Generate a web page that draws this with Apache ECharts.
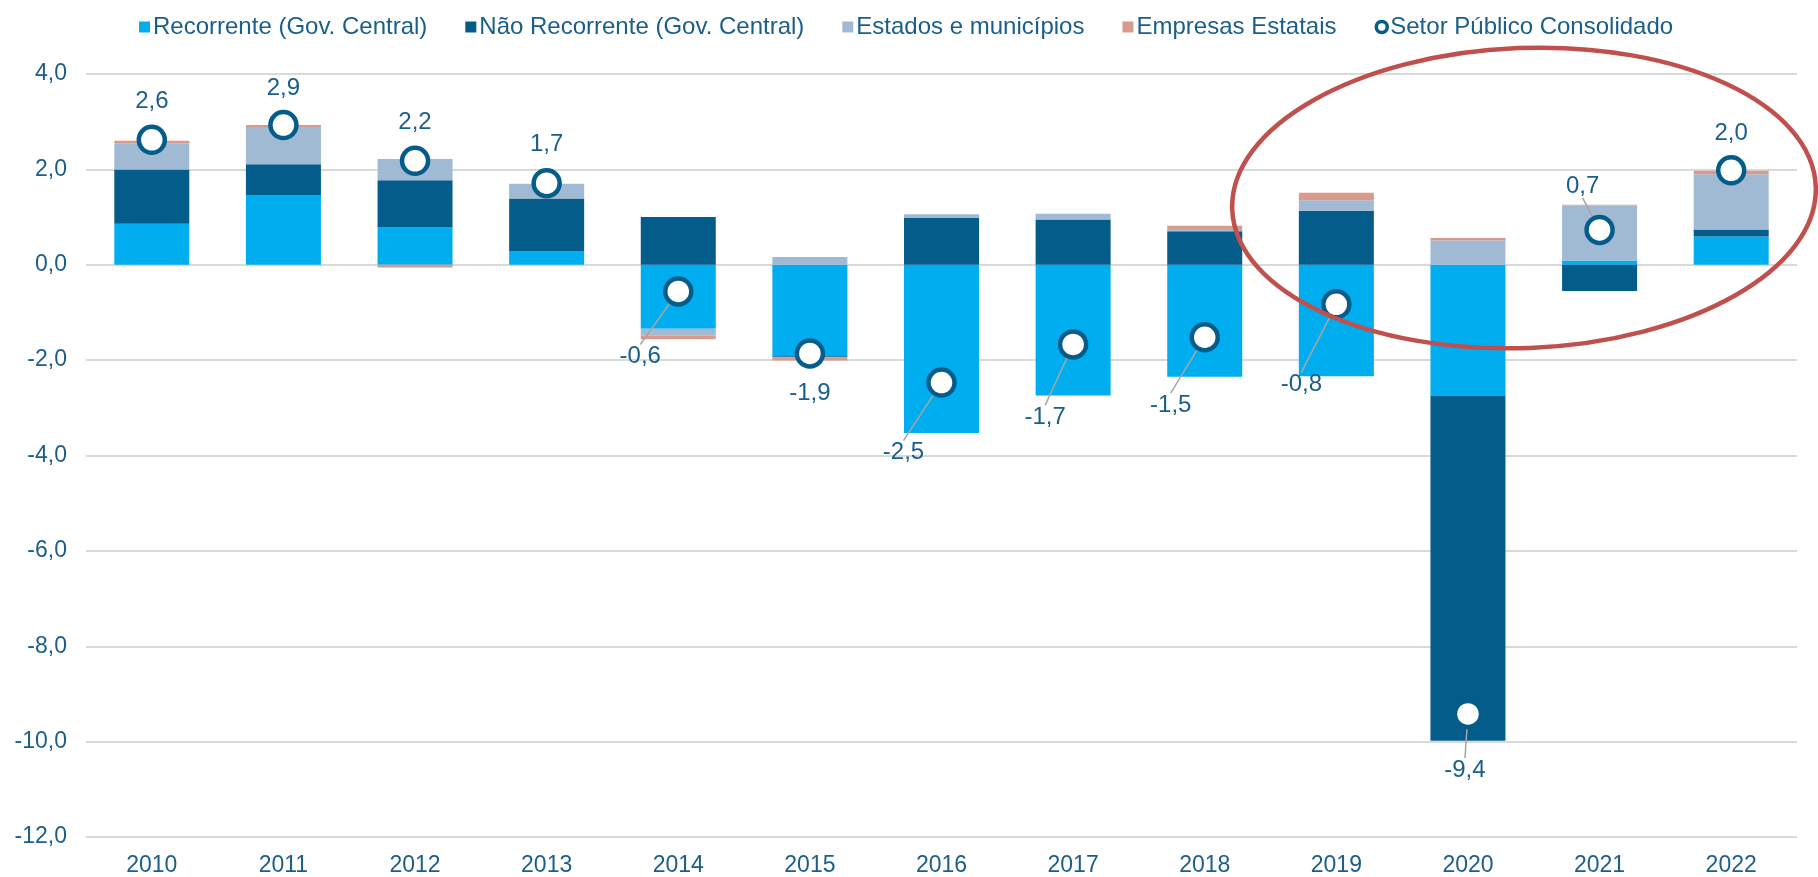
<!DOCTYPE html>
<html>
<head>
<meta charset="utf-8">
<title>Resultado primário</title>
<script src="https://cdn.jsdelivr.net/npm/echarts/dist/echarts.min.js"></script>
<style>
  html, body { margin: 0; padding: 0; background: #fff; }
  #chart { width: 1818px; height: 877px; }
</style>
</head>
<body>
<div id="chart"></div>
<script>
// dados (% do PIB)
const anos = ['2010', '2011', '2012', '2013', '2014', '2015', '2016', '2017', '2018', '2019', '2020', '2021', '2022'];
const recorrente = [0.86, 1.45, 0.78, 0.29, -1.34, -1.92, -3.53, -2.74, -2.35, -2.34, -2.74, 0.09, 0.59];
const naoRecorrente = [1.14, 0.66, 0.99, 1.10, 1.00, -0.02, 0.98, 0.95, 0.70, 1.13, -7.24, -0.55, 0.15];
const estados = [0.55, 0.78, 0.45, 0.31, -0.15, 0.16, 0.08, 0.12, 0.05, 0.22, 0.51, 1.15, 1.16];
const empresas = [0.05, 0.04, -0.06, 0.00, -0.07, -0.07, 0.00, 0.00, 0.07, 0.16, 0.05, 0.02, 0.07];
const setorPublico = [2.62, 2.93, 2.18, 1.71, -0.56, -1.86, -2.47, -1.67, -1.52, -0.83, -9.42, 0.73, 1.98];
const yTicks = [-12, -10, -8, -6, -4, -2, 0, 2, 4];

const azulTexto = '#1A5E8B';
const fonte = '"Liberation Sans", Arial, sans-serif';

// deslocamento dos rótulos do consolidado em relação ao círculo (px)
const rotuloDx = [0, 0, 0, 0, -38, 0, -38, -28, -34, -35, -3, -17, 0];
const rotuloDy = [-38, -37, -38, -39, 65, 40, 70, 73, 68, 80, 56, -44, -37];
const comLinha = [false, false, false, false, true, false, true, true, true, true, true, true, false];

const fmt = (v) => v.toFixed(1).replace('.', ',');

const chart = echarts.init(document.getElementById('chart'));

const barra = (name, data, color) => ({
  name,
  type: 'bar',
  stack: 'total',
  barWidth: 75,
  data,
  itemStyle: { color },
  emphasis: { disabled: true }
});

chart.setOption({
  animation: false,
  textStyle: { fontFamily: fonte },
  legend: {
    top: 10,
    left: 134,
    itemGap: 38,
    itemWidth: 11,
    itemHeight: 11,
    textStyle: { color: azulTexto, fontSize: 24, fontFamily: fonte, padding: [0, 0, 0, -2] },
    data: [
      { name: 'Recorrente (Gov. Central)', icon: 'rect' },
      { name: 'Não Recorrente (Gov. Central)', icon: 'rect' },
      { name: 'Estados e municípios', icon: 'rect' },
      { name: 'Empresas Estatais', icon: 'rect' },
      {
        name: 'Setor Público Consolidado',
        icon: 'circle',
        itemStyle: { color: '#ffffff', borderColor: '#045C8A', borderWidth: 3.5 }
      }
    ]
  },
  grid: { left: 86, right: 21, top: 74, bottom: 40 },
  xAxis: {
    type: 'category',
    data: anos,
    axisLine: { show: false, onZero: false },
    axisTick: { show: false },
    axisLabel: { color: azulTexto, fontSize: 23, margin: 17, fontFamily: fonte }
  },
  yAxis: {
    type: 'value',
    min: yTicks[0],
    max: yTicks[yTicks.length - 1],
    interval: 2,
    axisLine: { show: false },
    axisTick: { show: false },
    axisLabel: { color: azulTexto, fontSize: 23, margin: 19, fontFamily: fonte, formatter: fmt },
    splitLine: { lineStyle: { color: '#D9D9D9', width: 2 } }
  },
  series: [
    barra('Recorrente (Gov. Central)', recorrente, '#00AEEF'),
    barra('Não Recorrente (Gov. Central)', naoRecorrente, '#045C8A'),
    barra('Estados e municípios', estados, '#A0BAD3'),
    barra('Empresas Estatais', empresas, '#D89A8D'),
    {
      name: 'Setor Público Consolidado',
      type: 'scatter',
      z: 5,
      symbol: 'circle',
      symbolSize: 26,
      itemStyle: { color: '#ffffff', borderColor: '#045C8A', borderWidth: 4.5, opacity: 1 },
      emphasis: { disabled: true },
      data: setorPublico.map((v, i) => ({
        value: v,
        labelLine: { show: comLinha[i] }
      })),
      label: {
        show: true,
        position: 'inside',
        color: azulTexto,
        fontSize: 24,
        fontFamily: fonte,
        formatter: (p) => fmt(p.value)
      },
      labelLine: {
        show: true,
        lineStyle: { color: '#A6A6A6', width: 1.5 }
      },
      labelLayout: (p) => {
        const cx = p.rect.x + p.rect.width / 2;
        const cy = p.rect.y + p.rect.height / 2;
        return {
          x: cx + rotuloDx[p.dataIndex],
          y: cy + rotuloDy[p.dataIndex],
          align: 'center',
          verticalAlign: 'middle'
        };
      }
    }
  ],
  graphic: [
    {
      type: 'ellipse',
      shape: { cx: 1524, cy: 198, rx: 292, ry: 150 },
      originX: 1524,
      originY: 198,
      rotation: 0.04,
      style: { fill: 'none', stroke: '#C0504D', lineWidth: 4.5 },
      z: 100
    }
  ]
});
</script>
</body>
</html>
